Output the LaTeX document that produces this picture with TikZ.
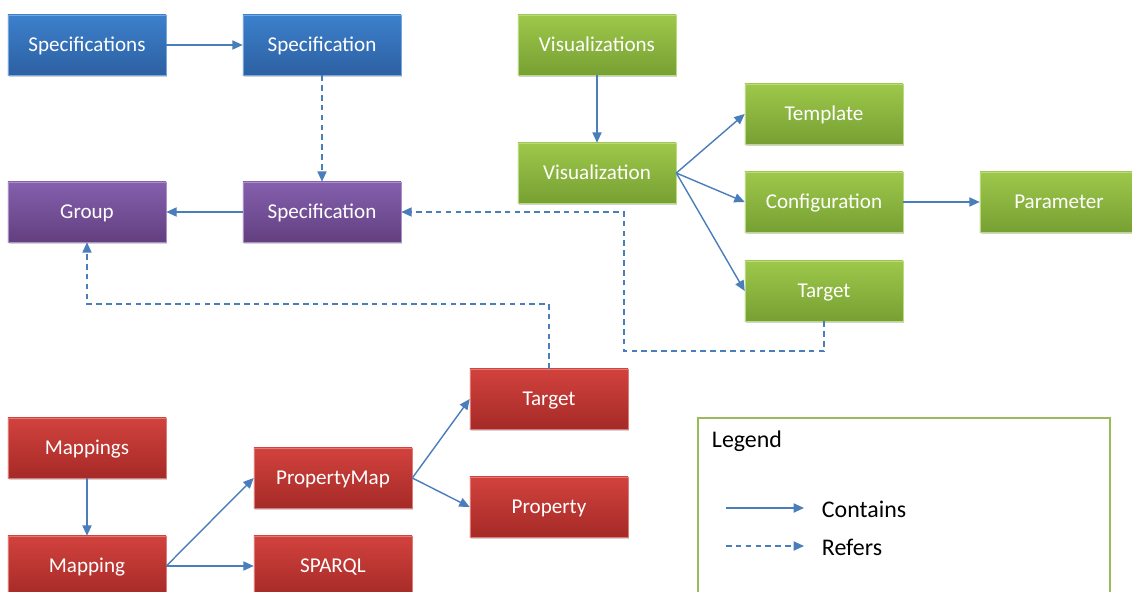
\documentclass[tikz,border=0pt]{standalone}
\usepackage{fontspec}
\setmainfont{Carlito}
\usetikzlibrary{arrows.meta,shadows}

\definecolor{specTop}{HTML}{3C80CC}
\definecolor{specBot}{HTML}{2D60A2}
\definecolor{groupTop}{HTML}{8460AE}
\definecolor{groupBot}{HTML}{633F80}
\definecolor{visTop}{HTML}{9DC84A}
\definecolor{visBot}{HTML}{77A033}
\definecolor{mapTop}{HTML}{D2423D}
\definecolor{mapBot}{HTML}{A52A27}
\definecolor{linkBlue}{HTML}{4A7EBB}
\definecolor{legendGreen}{HTML}{9BBB59}

\tikzset{
  box/.style={rectangle, minimum width=3.95cm, minimum height=1.5cm,
    text=white, font=\fontsize{15}{18}\selectfont, line width=.4pt,
    text height=2.2ex, text depth=.3ex,
    drop shadow={shadow xshift=.6pt, shadow yshift=-1.2pt, opacity=.35}},
  specbox/.style={box, draw=specTop!70!white, top color=specTop, bottom color=specBot},
  groupbox/.style={box, draw=groupTop!70!white, top color=groupTop, bottom color=groupBot},
  visbox/.style={box, draw=visTop!70!white, top color=visTop, bottom color=visBot},
  mapbox/.style={box, draw=mapTop!70!white, top color=mapTop, bottom color=mapBot},
  legendtext/.style={anchor=west, font=\fontsize{17}{20}\selectfont},
  contains/.style={draw=linkBlue, line width=1pt, -{Triangle[length=2.6mm,width=2.3mm]}, fill=none},
  refers/.style={contains, dash pattern=on 4pt off 3pt}
}

\begin{document}
\begin{tikzpicture}[x=0.025cm, y=-0.025cm]
  \useasboundingbox (0,0) rectangle (1132,592);

  %% specifications
  \node[specbox] (specs) at (87,45) {Specifications};
  \node[specbox] (spec) at (322,45) {Specification};
  \node[groupbox] (group) at (87,212) {Group};
  \node[groupbox] (groupspec) at (322,212) {Specification};

  %% visualizations
  \node[visbox] (vises) at (597,45) {Visualizations};
  \node[visbox] (vis) at (597,173) {Visualization};
  \node[visbox] (template) at (824,114) {Template};
  \node[visbox] (config) at (824,202) {Configuration};
  \node[visbox] (param) at (1059,202) {Parameter};
  \node[visbox] (vistarget) at (824,291) {Target};

  %% mappings
  \node[mapbox] (maptarget) at (549,399) {Target};
  \node[mapbox] (mappings) at (87,448) {Mappings};
  \node[mapbox] (propmap) at (333,478) {PropertyMap};
  \node[mapbox] (property) at (549,507) {Property};
  \node[mapbox] (mapping) at (87,566) {Mapping};
  \node[mapbox] (sparql) at (333,566) {SPARQL};

  %% bends
  \coordinate (visbend) at (624,351);
  \coordinate (mapbend) at (549,304);

  \draw[contains] (specs) -- (spec);
  \draw[refers] (spec) -- (groupspec);
  \draw[contains] (groupspec) -- (group);

  \draw[contains] (vises) -- (vis);
  \draw[contains] (vis.east) -- (template.west);
  \draw[contains] (vis.east) -- (config.west);
  \draw[contains] (vis.east) -- (vistarget.west);
  \draw[contains] (config) -- (param);

  \draw[refers] (vistarget.south) |- (visbend) |- (groupspec.east);
  \draw[refers] (maptarget.north) -- (mapbend) -| (group.south);

  \draw[contains] (mappings) -- (mapping);
  \draw[contains] (mapping.east) -- (propmap.west);
  \draw[contains] (mapping.east) -- (sparql.west);
  \draw[contains] (propmap.east) -- (maptarget.west);
  \draw[contains] (propmap.east) -- (property.west);

  %% legend
  \draw[legendGreen, line width=1.1pt, fill=white] (698,418) rectangle (1110,640);
  \node[legendtext] (legend) at (707,441) {Legend};
  \coordinate (containsA) at (726,508);
  \coordinate (containsB) at (804,508);
  \coordinate (refersA) at (726,546);
  \coordinate (refersB) at (804,546);
  \draw[contains] (containsA) -- (containsB);
  \draw[refers] (refersA) -- (refersB);
  \node[legendtext] (containsText) at (817,509) {Contains};
  \node[legendtext] (refersText) at (817,547) {Refers};
\end{tikzpicture}
\end{document}
